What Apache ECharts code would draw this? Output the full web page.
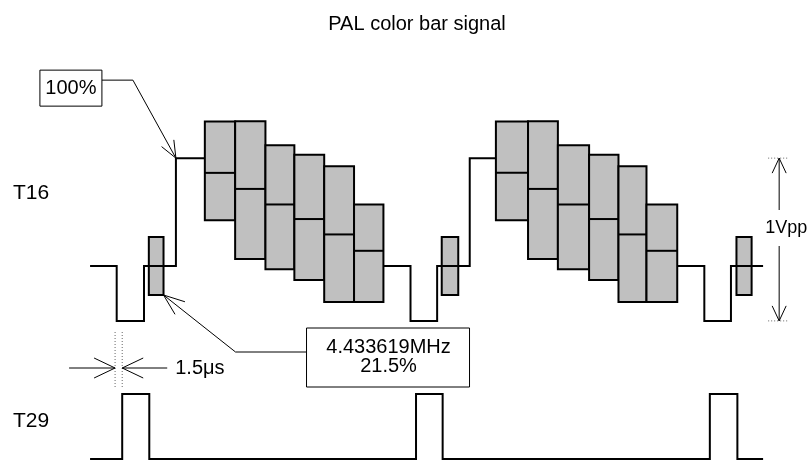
<!DOCTYPE html>
<html>
<head>
<meta charset="utf-8">
<style>
  html, body { margin: 0; padding: 0; background: #fff; }
  #chart { width: 807px; height: 462px; }
</style>
<script src="https://cdn.jsdelivr.net/npm/echarts@6/dist/echarts.min.js"></script>
</head>
<body>
<div id="chart"></div>
<script>
// time in µs (0 = leading edge of line sync), level in V above blanking
const syncLevel = -0.335;
const whiteLevel = 0.659;

// T16 outline: sync, back porch and white reference before each line's bars
const t16Segments = [
  [[-5.8, 0], [0, 0], [0, syncLevel], [5.95, syncLevel], [5.95, 0], [12.9, 0], [12.9, whiteLevel], [19.2, whiteLevel]],
  [[58.1, 0], [64, 0], [64, syncLevel], [69.8, syncLevel], [69.8, 0], [76.9, 0], [76.9, whiteLevel], [82.6, whiteLevel]],
  [[122.1, 0], [128, 0], [128, syncLevel], [133.8, syncLevel], [133.8, 0], [140.8, 0]]
];

// colour bars: edges per line, then envelope top / luminance / envelope bottom per bar
const barEdges = [
  [19.2, 25.8, 32.4, 38.7, 45.2, 51.7, 58.1],
  [82.6, 89.6, 96.1, 102.9, 109.3, 115.4, 122.1]
];
const barHigh = [0.882, 0.884, 0.738, 0.679, 0.610, 0.376];
const barLuma = [0.569, 0.471, 0.376, 0.287, 0.193, 0.093];
const barLow = [0.280, 0.043, -0.020, -0.085, -0.220, -0.220];

// colour burst
const burstStart = [7.0, 70.8, 135.0];
const burstEnd = [10.2, 74.4, 138.3];
const burstAmp = 0.177;

// T29 gate pulse
const t29Start = -5.8;
const t29End = 140.8;
const t29Rise = [1.2, 65.2, 129.2];
const t29Fall = [7.1, 71.0, 135.2];

// annotations
const gateMarks = [-0.35, 1.2];   // 1.5 µs
const vppTime = 144.3;

const FONT = "'Liberation Sans', Arial, sans-serif";

const barData = [];
barEdges.forEach(edges => {
  for (let i = 0; i < barHigh.length; i++) {
    barData.push([edges[i], edges[i + 1], barLow[i], barHigh[i], barLuma[i]]);
  }
});
const burstData = burstStart.map((s, i) => [s, burstEnd[i], -burstAmp, burstAmp]);

const t29Data = [[t29Start, 0]];
t29Rise.forEach((r, i) => {
  t29Data.push([r, 0], [r, 1], [t29Fall[i], 1], [t29Fall[i], 0]);
});
t29Data.push([t29End, 0]);

function head(tip, from, len, half) {
  const dx = tip[0] - from[0], dy = tip[1] - from[1];
  const d = Math.hypot(dx, dy);
  const ux = dx / d, uy = dy / d;
  const bx = tip[0] - ux * len, by = tip[1] - uy * len;
  return {
    type: 'polyline',
    shape: { points: [[bx - uy * half, by + ux * half], tip, [bx + uy * half, by - ux * half]] },
    style: { stroke: '#000', fill: null, lineWidth: 1 }
  };
}

function txt(x, y, text, size, align) {
  return {
    type: 'text', x: x, y: y,
    style: { text: text, fontFamily: FONT, fontSize: size, fill: '#000', align: align || 'center', verticalAlign: 'middle' }
  };
}

function renderBox(params, api) {
  const p0 = api.coord([api.value(0), api.value(3)]);
  const p1 = api.coord([api.value(1), api.value(2)]);
  const children = [{
    type: 'rect',
    shape: { x: p0[0], y: p0[1], width: p1[0] - p0[0], height: p1[1] - p0[1] },
    style: { fill: '#c0c0c0', stroke: '#000', lineWidth: 2 }
  }];
  if (params.seriesName === 'bars') {
    const m = api.coord([api.value(0), api.value(4)]);
    children.push({
      type: 'line',
      shape: { x1: p0[0], y1: m[1], x2: p1[0], y2: m[1] },
      style: { stroke: '#000', lineWidth: 2 }
    });
  }
  return { type: 'group', children: children };
}

// 100% callout pointing at the start of the white level
function renderWhiteNote(params, api) {
  const a = api.coord([api.value(0), api.value(1)]);
  const elbow = [a[0] - 43, a[1] - 78];
  const boxR = [a[0] - 74, a[1] - 78];
  return {
    type: 'group',
    children: [
      { type: 'polyline', shape: { points: [boxR, elbow, a] }, style: { stroke: '#000', fill: null, lineWidth: 1 } },
      head(a, elbow, 17, 7),
      { type: 'rect', shape: { x: a[0] - 136, y: a[1] - 88, width: 62, height: 36 }, style: { fill: '#fff', stroke: '#000', lineWidth: 1 } },
      txt(a[0] - 105, a[1] - 70, '100%', 20)
    ]
  };
}

// burst callout pointing at the bottom corner of the burst
function renderBurstNote(params, api) {
  const a = api.coord([api.value(0), api.value(1)]);
  const elbow = [a[0] + 72, a[1] + 57];
  const boxL = [a[0] + 143, a[1] + 57];
  return {
    type: 'group',
    children: [
      { type: 'polyline', shape: { points: [boxL, elbow, a] }, style: { stroke: '#000', fill: null, lineWidth: 1 } },
      head(a, elbow, 21, 8),
      { type: 'rect', shape: { x: a[0] + 143, y: a[1] + 33, width: 163, height: 59 }, style: { fill: '#fff', stroke: '#000', lineWidth: 1 } },
      txt(a[0] + 225, a[1] + 52, '4.433619MHz', 20),
      txt(a[0] + 225, a[1] + 71, '21.5%', 20)
    ]
  };
}

// 1Vpp double arrow from sync tip to white level
function renderVpp(params, api) {
  const top = api.coord([api.value(0), api.value(2)]);
  const bot = api.coord([api.value(0), api.value(1)]);
  const x = top[0];
  const ty = 228;
  const dot = { stroke: '#666', lineWidth: 1, lineDash: [1, 2] };
  return {
    type: 'group',
    children: [
      { type: 'line', shape: { x1: x - 11, y1: top[1], x2: x + 10, y2: top[1] }, style: dot },
      { type: 'line', shape: { x1: x - 11, y1: bot[1], x2: x + 10, y2: bot[1] }, style: dot },
      { type: 'line', shape: { x1: x, y1: top[1], x2: x, y2: ty - 18 }, style: { stroke: '#000', lineWidth: 1 } },
      { type: 'line', shape: { x1: x, y1: ty + 18, x2: x, y2: bot[1] }, style: { stroke: '#000', lineWidth: 1 } },
      head(top, [x, ty], 15, 7),
      head(bot, [x, ty], 15, 7),
      txt(x + 7, ty, '1Vpp', 18)
    ]
  };
}

// 1.5 µs gate delay marker above T29
function renderGate(params, api) {
  const l = api.coord([api.value(0), 1]);
  const r = api.coord([api.value(1), 1]);
  const y0 = l[1] - 62, y1 = l[1] - 7, ay = l[1] - 26;
  const dot = { stroke: '#666', lineWidth: 1, lineDash: [1, 2] };
  const tipL = [l[0], ay], tipR = [r[0], ay];
  return {
    type: 'group',
    children: [
      { type: 'line', shape: { x1: l[0], y1: y0, x2: l[0], y2: y1 }, style: dot },
      { type: 'line', shape: { x1: r[0], y1: y0, x2: r[0], y2: y1 }, style: dot },
      { type: 'line', shape: { x1: l[0] - 46, y1: ay, x2: l[0], y2: ay }, style: { stroke: '#000', lineWidth: 1 } },
      { type: 'line', shape: { x1: r[0], y1: ay, x2: r[0] + 45, y2: ay }, style: { stroke: '#000', lineWidth: 1 } },
      head(tipL, [l[0] - 46, ay], 21, 10),
      head(tipR, [r[0] + 45, ay], 21, 10),
      txt(r[0] + 53, ay, '1.5μs', 20, 'left')
    ]
  };
}

const lineStyle = { color: '#000', width: 2, join: 'miter' };

const series = [
  { name: 'burst', type: 'custom', xAxisIndex: 0, yAxisIndex: 0, renderItem: renderBox, data: burstData, z: 1 },
  { name: 'bars', type: 'custom', xAxisIndex: 0, yAxisIndex: 0, renderItem: renderBox, data: barData, z: 2 }
];
t16Segments.forEach((seg, i) => {
  series.push({
    name: 'T16-' + i, type: 'line', xAxisIndex: 0, yAxisIndex: 0,
    data: seg, showSymbol: false, symbol: 'none', lineStyle: lineStyle, z: 3
  });
});
series.push(
  { name: 'T29', type: 'line', xAxisIndex: 1, yAxisIndex: 1, data: t29Data, showSymbol: false, symbol: 'none', lineStyle: lineStyle, z: 3 },
  { name: 'note100', type: 'custom', xAxisIndex: 0, yAxisIndex: 0, renderItem: renderWhiteNote,
    data: [[t16Segments[0][6][0], whiteLevel]], z: 4 },
  { name: 'noteBurst', type: 'custom', xAxisIndex: 0, yAxisIndex: 0, renderItem: renderBurstNote,
    data: [[burstEnd[0], -burstAmp]], z: 4 },
  { name: 'vpp', type: 'custom', xAxisIndex: 0, yAxisIndex: 0, renderItem: renderVpp,
    data: [[vppTime, syncLevel, whiteLevel]], z: 4 },
  { name: 'gate', type: 'custom', xAxisIndex: 1, yAxisIndex: 1, renderItem: renderGate,
    data: [gateMarks], z: 4 }
);

const chart = echarts.init(document.getElementById('chart'));
chart.setOption({
  animation: false,
  backgroundColor: '#fff',
  graphic: [
    { type: 'text', x: 417, y: 24, style: { text: 'PAL color bar signal', fontFamily: FONT, fontSize: 20, fill: '#000', align: 'center', verticalAlign: 'middle' } },
    { type: 'text', x: 13, y: 193, style: { text: 'T16', fontFamily: FONT, fontSize: 21, fill: '#000', align: 'left', verticalAlign: 'middle' } },
    { type: 'text', x: 13, y: 421, style: { text: 'T29', fontFamily: FONT, fontSize: 21, fill: '#000', align: 'left', verticalAlign: 'middle' } }
  ],
  grid: [
    { left: 89.15, right: 38.4, top: 102.3, height: 245.6 },
    { left: 89.15, right: 38.4, top: 394, height: 65 }
  ],
  xAxis: [
    { type: 'value', gridIndex: 0, min: -6, max: 142, show: false },
    { type: 'value', gridIndex: 1, min: -6, max: 142, show: false }
  ],
  yAxis: [
    { type: 'value', gridIndex: 0, min: -0.5, max: 1.0, show: false },
    { type: 'value', gridIndex: 1, min: 0, max: 1, show: false }
  ],
  series: series
});
</script>
</body>
</html>
